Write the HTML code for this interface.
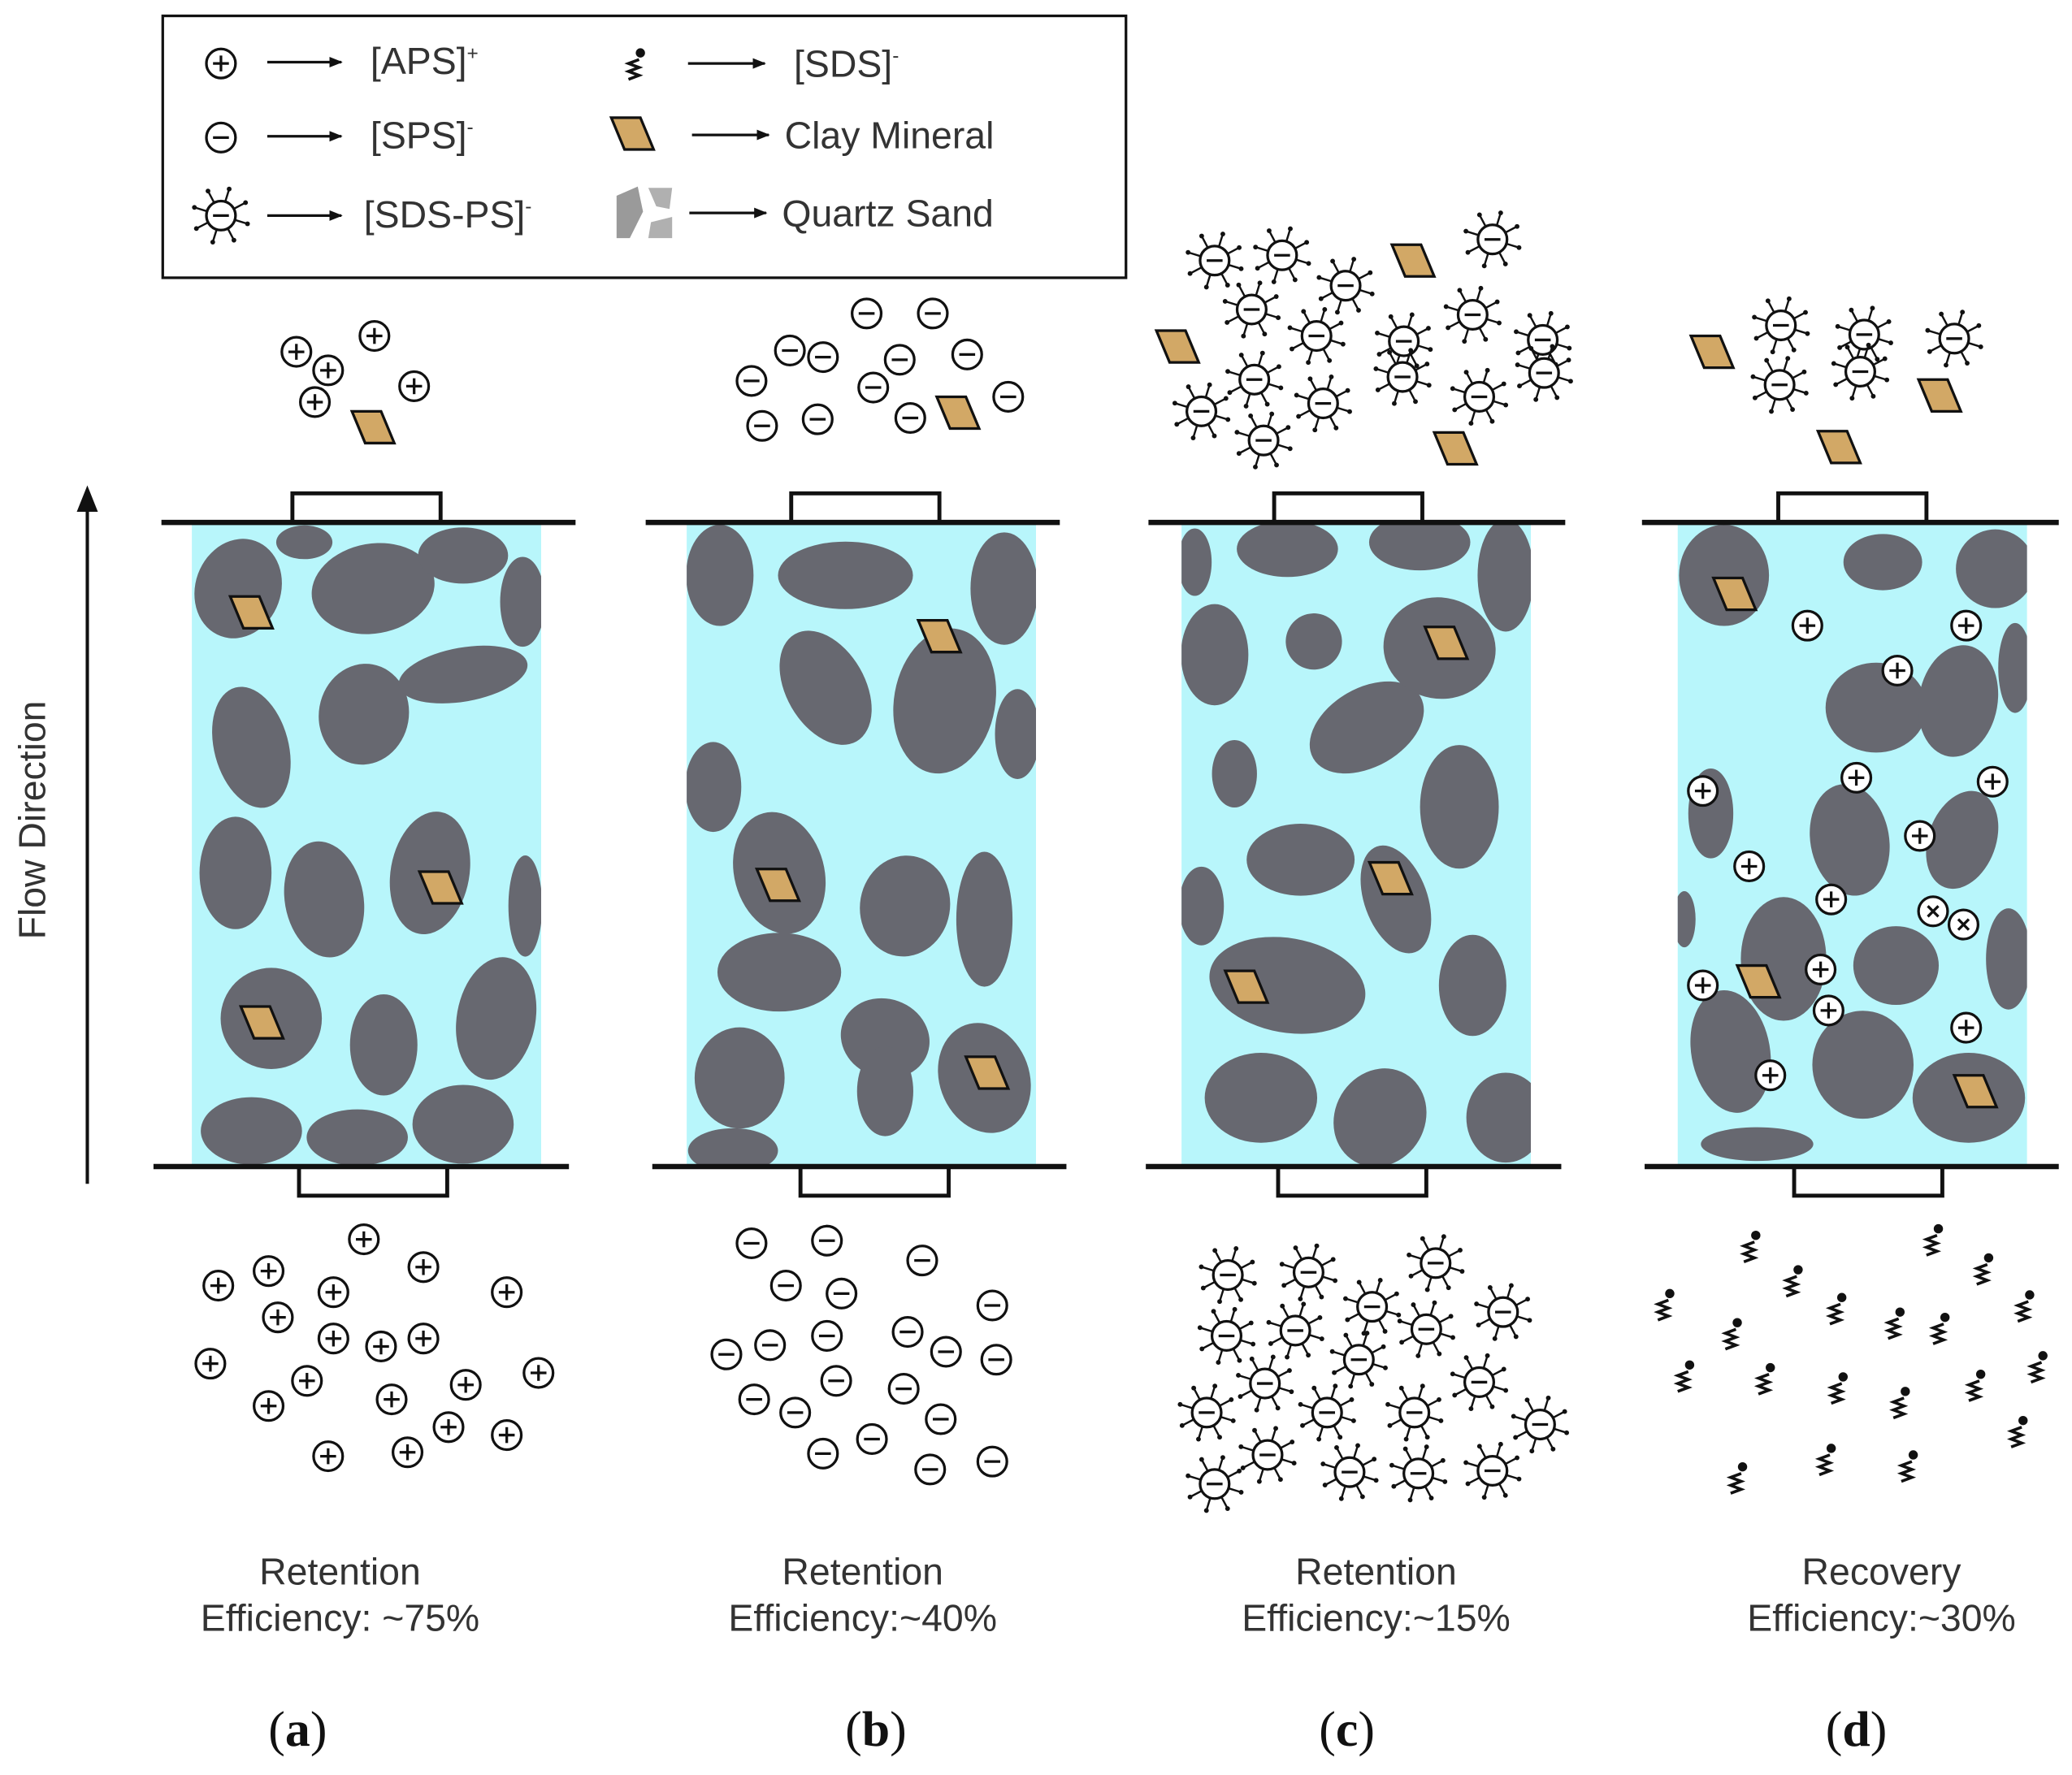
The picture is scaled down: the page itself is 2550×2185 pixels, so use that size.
<!DOCTYPE html>
<html><head><meta charset="utf-8"><style>
html,body{margin:0;padding:0;background:#fff;}
svg{display:block;}
text{font-family:"Liberation Sans",sans-serif;fill:#333;}
</style></head><body>
<svg id="fig" xmlns="http://www.w3.org/2000/svg" width="2550" height="2185" viewBox="0 0 1566 1342" preserveAspectRatio="none">
<defs>
<marker id="ah" markerWidth="10" markerHeight="10" refX="9" refY="5" orient="auto" markerUnits="userSpaceOnUse"><path d="M0,1 L10,5 L0,9 Z" fill="#111"/></marker>
<marker id="ahb" markerWidth="20" markerHeight="20" refX="10" refY="18" orient="0" markerUnits="userSpaceOnUse"><path d="M2,20 L10,0 L18,20 Z" fill="#111"/></marker>
</defs>
<g id="legend">
<rect x="123" y="12" width="728" height="198" fill="#fff" stroke="#111" stroke-width="2"/>
<line x1="202" y1="47" x2="258" y2="47" stroke="#111" stroke-width="2" marker-end="url(#ah)"/>
<text x="280" y="56" font-size="28.5">[APS]<tspan font-size="15" dy="-11">+</tspan></text>
<line x1="202" y1="103" x2="258" y2="103" stroke="#111" stroke-width="2" marker-end="url(#ah)"/>
<text x="280" y="112" font-size="28.5">[SPS]<tspan font-size="15" dy="-11">-</tspan></text>
<line x1="202" y1="163" x2="258" y2="163" stroke="#111" stroke-width="2" marker-end="url(#ah)"/>
<text x="275" y="172" font-size="28.5">[SDS-PS]<tspan font-size="15" dy="-11">-</tspan></text>
<line x1="520" y1="48" x2="578" y2="48" stroke="#111" stroke-width="2" marker-end="url(#ah)"/>
<text x="600" y="58" font-size="28.5">[SDS]<tspan font-size="15" dy="-11">-</tspan></text>
<line x1="523" y1="102" x2="581" y2="102" stroke="#111" stroke-width="2" marker-end="url(#ah)"/>
<text x="593" y="112" font-size="28.5">Clay Mineral</text>
<line x1="521" y1="161" x2="579" y2="161" stroke="#111" stroke-width="2" marker-end="url(#ah)"/>
<text x="591" y="171" font-size="28.5">Quartz Sand</text>
<path d="M466,148 L482,141 L486,160 L476,180 L466,180 Z" fill="#9a9a9a"/>
<path d="M490,142 L508,142 L506,158 L496,156 Z M492,168 L508,164 L508,180 L490,180 Z" fill="#b0b0b0"/>
</g>
<g id="columns"></g>
<g id="particles"></g>
<line x1="66" y1="895" x2="66" y2="385" stroke="#111" stroke-width="2.5" marker-end="url(#ahb)"/>
<text x="34" y="620" font-size="28.5" text-anchor="middle" transform="rotate(-90 34 620)">Flow Direction</text>
<g font-size="28.5" text-anchor="middle">
<text x="257" y="1198">Retention</text>
<text x="257" y="1233">Efficiency: ~75%</text>
<text x="652" y="1198">Retention</text>
<text x="652" y="1233">Efficiency:~40%</text>
<text x="1040" y="1198">Retention</text>
<text x="1040" y="1233">Efficiency:~15%</text>
<text x="1422" y="1198">Recovery</text>
<text x="1422" y="1233">Efficiency:~30%</text>
</g>
<g font-size="38" text-anchor="middle">
<text x="225" y="1320" style="font-family:'Liberation Serif',serif;fill:#111">(<tspan font-weight="bold">a</tspan>)</text>
<text x="662" y="1320" style="font-family:'Liberation Serif',serif;fill:#111">(<tspan font-weight="bold">b</tspan>)</text>
<text x="1018" y="1320" style="font-family:'Liberation Serif',serif;fill:#111">(<tspan font-weight="bold">c</tspan>)</text>
<text x="1403" y="1320" style="font-family:'Liberation Serif',serif;fill:#111">(<tspan font-weight="bold">d</tspan>)</text>
</g>
</svg>
<script>
const NS="http://www.w3.org/2000/svg";
function mk(tag,attrs,parent){const e=document.createElementNS(NS,tag);for(const k in attrs)e.setAttribute(k,attrs[k]);parent.appendChild(e);return e;}
const colG=document.getElementById('columns');
const parG=document.getElementById('particles');
const cols=[
 {n:'a',fx:145,tl:[122,435],bl:[116,430],tc:221,bc:226},
 {n:'b',fx:519,tl:[488,801],bl:[493,806],tc:598,bc:605},
 {n:'c',fx:893,tl:[868,1183],bl:[866,1180],tc:963,bc:966},
 {n:'d',fx:1268,tl:[1241,1556],bl:[1243,1556],tc:1344,bc:1356}
];
const GS=0.85;
const grains=[
 [[35,50,38,45,20],[137,50,55,40,-10],[205,25,40,25,0],[45,170,33,55,-15],[130,145,40,45,10],[205,115,58,24,-10],[250,60,20,40,0],[33,265,32,50,0],[100,285,35,52,-10],[180,265,35,55,10],[252,290,15,45,0],[60,375,45,45,0],[145,395,30,45,0],[230,375,35,55,10],[45,460,45,30,0],[125,465,45,25,0],[205,455,45,35,0],[85,15,25,15,0]],
 [[25,40,30,45,0],[120,40,60,30,0],[240,50,30,50,0],[105,125,35,55,-30],[195,135,45,65,10],[250,160,20,40,0],[20,200,25,40,0],[70,265,40,55,-15],[165,290,40,45,10],[225,300,25,60,0],[70,340,55,35,0],[150,390,40,35,20],[40,420,40,45,0],[150,430,25,40,0],[225,420,40,50,-20],[35,475,40,20,0]],
 [[10,30,15,30,0],[80,20,45,25,0],[180,15,45,25,0],[245,40,25,50,0],[100,90,25,25,20],[25,100,30,45,0],[140,155,55,35,-30],[195,95,50,45,10],[40,190,20,30,0],[210,215,35,55,0],[90,255,48,32,0],[162,285,28,50,-20],[15,290,20,35,0],[80,350,70,42,10],[220,350,30,45,0],[60,435,50,40,0],[150,450,40,45,30],[245,450,35,40,0]],
 [[35,40,40,45,0],[155,30,35,25,0],[240,35,35,35,0],[150,140,45,40,0],[212,135,35,50,10],[255,110,15,40,0],[25,220,20,40,0],[130,240,35,50,-10],[215,240,30,45,20],[5,300,10,25,0],[80,330,38,55,0],[165,335,38,35,0],[250,330,20,45,0],[40,400,35,55,-10],[140,410,45,48,0],[220,435,50,40,0],[60,470,50,15,0]]
];
const clays={a:[[190,463],[333,671],[198,773]],b:[[710,481],[588,669],[746,811]],c:[[1093,486],[1051,664],[942,746]],d:[[1311,449],[1329,742],[1493,825]]};
cols.forEach((c,i)=>{
 const g=mk('g',{},colG);
 
 
 mk('clipPath',{id:'clip'+c.n},g);
 mk('rect',{x:c.fx,y:395,width:264,height:487},g.lastChild);
 mk('rect',{x:c.fx,y:395,width:264,height:487,fill:'#b8f6fb'},g);
 const gg=mk('g',{'clip-path':'url(#clip'+c.n+')'},g);
 grains[i].forEach(q=>{
  const e=mk('ellipse',{cx:c.fx+q[0],cy:395+q[1],rx:q[2]*GS,ry:q[3]*GS,fill:'#676870',transform:`rotate(${q[4]} ${c.fx+q[0]} ${395+q[1]})`},gg);
  
  
 });
 clays[c.n].forEach(p=>clay(p[0],p[1],g));
 mk('rect',{x:c.tc,y:373,width:112,height:22,fill:'#fff',stroke:'#111','stroke-width':3},g);
 mk('rect',{x:c.bc,y:882,width:112,height:22,fill:'#fff',stroke:'#111','stroke-width':3},g);
 mk('line',{x1:c.tl[0],y1:395,x2:c.tl[1],y2:395,stroke:'#111','stroke-width':4},g);
 mk('line',{x1:c.bl[0],y1:882,x2:c.bl[1],y2:882,stroke:'#111','stroke-width':4},g);
});
function clay(x,y,p){const e=mk('path',{d:`M${x-16},${y-12} L${x+6},${y-12} L${x+16},${y+12} L${x-6},${y+12} Z`,fill:'#d2a866',stroke:'#111','stroke-width':2},p);
 
 }
function ion(x,y,sym,p){const g=mk('g',{},p);
 
 
 mk('circle',{cx:x,cy:y,r:11,fill:'#fff',stroke:'#111','stroke-width':2},g);
 if(sym=='x'){mk('path',{d:`M${x-4},${y-4}L${x+4},${y+4}M${x+4},${y-4}L${x-4},${y+4}`,stroke:'#111','stroke-width':2},g);return;}
 mk('line',{x1:x-6,y1:y,x2:x+6,y2:y,stroke:'#111','stroke-width':2},g);
 if(sym=='+')mk('line',{x1:x,y1:y-6,x2:x,y2:y+6,stroke:'#111','stroke-width':2},g);}
function sdsps(x,y,p){const g=mk('g',{},p);
 
 
 for(let k=0;k<8;k++){const a=k*Math.PI/4+0.3;mk('line',{x1:x+11*Math.cos(a),y1:y+11*Math.sin(a),x2:x+20*Math.cos(a),y2:y+20*Math.sin(a),stroke:'#111','stroke-width':1.5},g);
  mk('circle',{cx:x+21*Math.cos(a),cy:y+21*Math.sin(a),r:1.8,fill:'#111'},g);}
 mk('circle',{cx:x,cy:y,r:11,fill:'#fff',stroke:'#111','stroke-width':2},g);
 mk('line',{x1:x-6,y1:y,x2:x+6,y2:y,stroke:'#111','stroke-width':2},g);}
function sds(x,y,p){const g=mk('g',{},p);
 
 
 mk('path',{d:`M${x-5},${y+12} l8,-3 l-8,-3 l8,-3 l-8,-3 l8,-3`,fill:'none',stroke:'#111','stroke-width':2.2},g);
 mk('circle',{cx:x+4,cy:y-8,r:3.5,fill:'#111'},g);}
ion(167,48,'+',parG);ion(167,104,'-',parG);sdsps(167,163,parG);sds(480,48,parG);clay(478,101,parG);
const aTop=[[224,266],[248,280],[283,254],[238,304],[313,292]];
const aBot=[[275,937],[165,972],[203,961],[252,977],[320,958],[383,977],[210,996],[252,1012],[288,1018],[320,1012],[159,1031],[232,1044],[296,1058],[352,1047],[407,1038],[203,1063],[339,1079],[383,1085],[248,1101],[308,1098]];
const bTop=[[655,237],[705,237],[597,265],[622,270],[680,272],[731,268],[568,288],[660,293],[618,317],[576,322],[688,316],[762,300]];
const bBot=[[568,940],[625,938],[697,953],[594,972],[636,978],[750,987],[549,1024],[582,1017],[625,1010],[686,1007],[715,1022],[753,1028],[632,1044],[570,1058],[601,1068],[683,1050],[711,1073],[659,1088],[622,1099],[703,1111],[750,1105]];
const cTop=[[918,197],[969,193],[1128,181],[946,234],[1017,216],[1113,238],[995,254],[1061,258],[1166,257],[948,287],[1060,285],[1167,282],[908,311],[1000,305],[1118,300],[955,333]];
const cBot=[[928,964],[989,962],[1085,955],[1037,988],[1136,992],[927,1010],[979,1006],[1078,1005],[1027,1028],[956,1046],[1118,1045],[912,1068],[1003,1068],[1069,1068],[1164,1077],[958,1100],[1020,1113],[1072,1114],[1128,1112],[918,1122]];
const dTop=[[1346,246],[1409,253],[1477,256],[1345,291],[1406,281]];
const dIn=[[1366,473],[1486,473],[1434,507],[1403,588],[1506,591],[1287,598],[1451,632],[1322,655],[1384,680],[1287,745],[1376,733],[1382,764],[1486,777],[1338,813]];
const dBot=[[1258,986],[1323,942],[1355,968],[1461,937],[1499,959],[1309,1008],[1388,989],[1432,1000],[1466,1004],[1530,987],[1273,1040],[1334,1042],[1389,1049],[1436,1060],[1493,1047],[1540,1033],[1525,1082],[1380,1103],[1442,1108],[1313,1117]];
aTop.forEach(p=>ion(p[0],p[1],'+',parG));clay(282,323,parG);
aBot.forEach(p=>ion(p[0],p[1],'+',parG));
bTop.forEach(p=>ion(p[0],p[1],'-',parG));clay(724,312,parG);
bBot.forEach(p=>ion(p[0],p[1],'-',parG));
[[1068,197],[890,262],[1100,339]].forEach(p=>clay(p[0],p[1],parG));
cTop.forEach(p=>sdsps(p[0],p[1],parG));
cBot.forEach(p=>sdsps(p[0],p[1],parG));
[[1294,266],[1466,299],[1390,338]].forEach(p=>clay(p[0],p[1],parG));
dTop.forEach(p=>sdsps(p[0],p[1],parG));
dIn.forEach(p=>ion(p[0],p[1],'+',parG));
ion(1461,689,'x',parG);ion(1484,699,'x',parG);
dBot.forEach(p=>sds(p[0],p[1],parG));
</script>
</body></html>
